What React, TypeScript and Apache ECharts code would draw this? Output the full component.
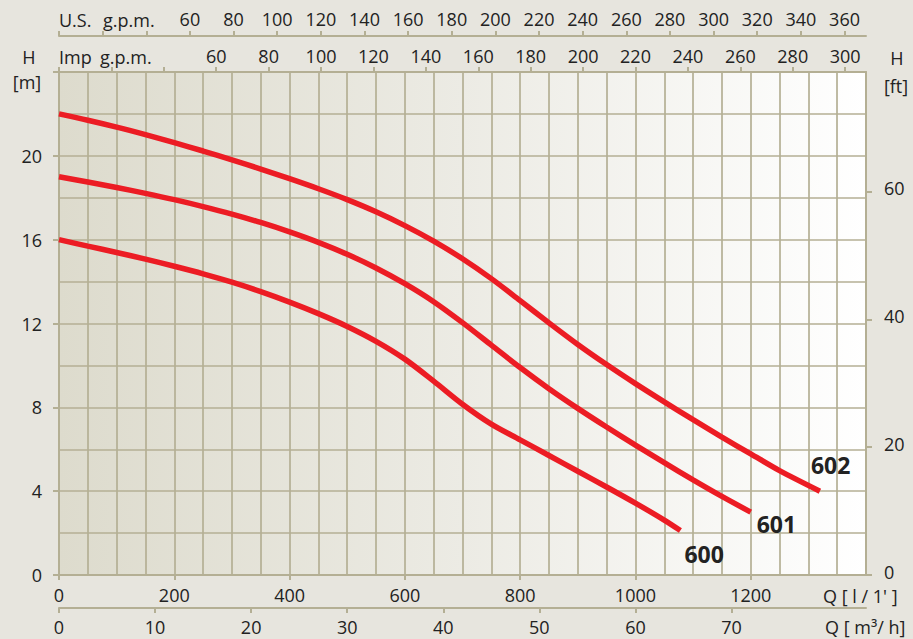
import React, { useEffect, useRef } from 'react';
import * as echarts from 'echarts';

// ---- Data (flow in l/min, head in m) ----
const flow600 = [0, 50, 100, 150, 200, 250, 300, 350, 400, 450, 500, 550, 600, 650, 700, 750, 800, 850, 900, 950, 1000, 1050, 1078];
const head600 = [16, 15.69, 15.39, 15.07, 14.73, 14.37, 13.97, 13.52, 13.02, 12.47, 11.86, 11.15, 10.3, 9.25, 8.15, 7.2, 6.45, 5.7, 4.95, 4.2, 3.43, 2.62, 2.12];

const flow601 = [0, 50, 100, 150, 200, 250, 300, 350, 400, 450, 500, 550, 600, 650, 700, 750, 800, 850, 900, 950, 1000, 1050, 1100, 1150, 1200];
const head601 = [19, 18.75, 18.49, 18.21, 17.91, 17.58, 17.22, 16.82, 16.37, 15.87, 15.3, 14.65, 13.9, 13.04, 12.04, 10.97, 9.9, 8.89, 7.95, 7.06, 6.2, 5.36, 4.54, 3.75, 3.0];

const flow602 = [0, 50, 100, 150, 200, 250, 300, 350, 400, 450, 500, 550, 600, 650, 700, 750, 800, 850, 900, 950, 1000, 1050, 1100, 1150, 1200, 1250, 1320];
const head602 = [22, 21.7, 21.37, 21.01, 20.63, 20.23, 19.81, 19.37, 18.91, 18.43, 17.91, 17.33, 16.67, 15.93, 15.09, 14.14, 13.09, 12.03, 11.0, 10.04, 9.13, 8.26, 7.41, 6.58, 5.78, 4.98, 4.0];

const seriesNames = ['600', '601', '602'];

// ---- Tick labels ----
const lpmTicks = [0, 200, 400, 600, 800, 1000, 1200];
const m3hTicks = [0, 10, 20, 30, 40, 50, 60, 70];
const usGpmTicks = [0, 20, 40, 60, 80, 100, 120, 140, 160, 180, 200, 220, 240, 260, 280, 300, 320, 340, 360];
const usGpmLabels = [60, 80, 100, 120, 140, 160, 180, 200, 220, 240, 260, 280, 300, 320, 340, 360];
const impGpmTicks = [0, 20, 40, 60, 80, 100, 120, 140, 160, 180, 200, 220, 240, 260, 280, 300];
const impGpmLabels = [60, 80, 100, 120, 140, 160, 180, 200, 220, 240, 260, 280, 300];
const headMTicks = [0, 4, 8, 12, 16, 20, 24];
const headMLabels = [0, 4, 8, 12, 16, 20];
const headFtTicks = [0, 20, 40, 60];

const Q_MAX = 1400;
const H_MAX = 24;
const LPM_PER_USGPM = 3.78541;
const LPM_PER_IMPGPM = 4.54609;
const LPM_PER_M3H = 1000 / 60;
const M_PER_FT = 0.3048;

const FONT = '"Open Sans", "Noto Sans", sans-serif';
const TEXT = '#222222';
const GRID = '#b4af94';
const RED = '#ec1c24';

function zip(xs: number[], ys: number[]) {
  return xs.map((x, i) => [x, ys[i]]);
}

const plain = (v: number) => String(Math.round(v));

function makeXAxis(opts: any) {
  return {
    type: 'value',
    min: 0,
    max: opts.max,
    position: opts.position,
    offset: opts.offset || 0,
    axisLine: { show: true, onZero: false, lineStyle: { color: GRID, width: 2 } },
    axisTick: { show: true, customValues: opts.ticks, length: 5, lineStyle: { color: GRID, width: 2 } },
    axisLabel: {
      show: true,
      customValues: opts.labels,
      formatter: plain,
      fontSize: 18,
      lineHeight: 18,
      fontFamily: FONT,
      color: TEXT,
      margin: opts.margin,
    },
    splitLine: { show: false },
  };
}

export default function App() {
  const ref = useRef<HTMLDivElement>(null);

  useEffect(() => {
    if (!ref.current) return;
    const chart = echarts.init(ref.current, null, { renderer: 'svg' });
    const dataSets = [zip(flow600, head600), zip(flow601, head601), zip(flow602, head602)];
    const labelOffsets = [[-4, 23], [-2, 12], [-17, -26]];

    const textEl = (text: string, x: number, y: number, align: string) => ({
      type: 'text',
      x,
      y,
      silent: true,
      style: {
        text,
        fill: TEXT,
        font: `18px ${FONT}`,
        lineHeight: 16,
        textAlign: align,
        textVerticalAlign: 'middle',
      },
    });

    chart.setOption({
      animation: false,
      backgroundColor: '#e7e5de',
      grid: {
        left: 59,
        right: 47,
        top: 72,
        bottom: 64,
        show: true,
        borderWidth: 0,
        backgroundColor: new echarts.graphic.LinearGradient(0, 0, 1, 0, [
          { offset: 0, color: '#dddbcd' },
          { offset: 0.5, color: '#ecebe4' },
          { offset: 1, color: '#ffffff' },
        ]),
      },
      xAxis: [
        makeXAxis({ max: Q_MAX, position: 'bottom', ticks: lpmTicks, labels: lpmTicks, margin: 11 }),
        makeXAxis({ max: Q_MAX / LPM_PER_M3H, position: 'bottom', offset: 33, ticks: m3hTicks, labels: m3hTicks, margin: 10 }),
        makeXAxis({ max: Q_MAX / LPM_PER_IMPGPM, position: 'top', ticks: impGpmTicks, labels: impGpmLabels, margin: 7 }),
        makeXAxis({ max: Q_MAX / LPM_PER_USGPM, position: 'top', offset: 36, ticks: usGpmTicks, labels: usGpmLabels, margin: 8 }),
        {
          type: 'value',
          min: 0,
          max: Q_MAX,
          interval: 50,
          position: 'bottom',
          axisLine: { show: false, onZero: false },
          axisTick: { show: false },
          axisLabel: { show: false },
          splitLine: { show: true, lineStyle: { color: GRID, width: 1.7 } },
        },
      ],
      yAxis: [
        {
          type: 'value',
          min: 0,
          max: H_MAX,
          position: 'left',
          axisLine: { show: true, onZero: false, lineStyle: { color: GRID, width: 2 } },
          axisTick: { show: true, customValues: headMTicks, length: 6, lineStyle: { color: GRID, width: 2 } },
          axisLabel: {
            customValues: headMLabels,
            formatter: plain,
            fontSize: 18,
            lineHeight: 18,
            fontFamily: FONT,
            color: TEXT,
            margin: 17,
            padding: [0, 0, 7, 0],
          },
          splitLine: { show: false },
        },
        {
          type: 'value',
          min: 0,
          max: H_MAX / M_PER_FT,
          position: 'right',
          axisLine: { show: true, onZero: false, lineStyle: { color: GRID, width: 2 } },
          axisTick: { show: true, customValues: headFtTicks, length: 6, lineStyle: { color: GRID, width: 2 } },
          axisLabel: {
            customValues: headFtTicks,
            formatter: plain,
            fontSize: 18,
            lineHeight: 7,
            verticalAlign: 'bottom',
            fontFamily: FONT,
            color: TEXT,
            margin: 18,
          },
          splitLine: { show: false },
        },
        {
          type: 'value',
          min: 0,
          max: H_MAX,
          interval: 2,
          position: 'left',
          axisLine: { show: false, onZero: false },
          axisTick: { show: false },
          axisLabel: { show: false },
          splitLine: { show: true, lineStyle: { color: GRID, width: 1.7 } },
        },
      ],
      series: seriesNames.map((name, i) => ({
        name,
        type: 'line',
        xAxisIndex: 0,
        yAxisIndex: 0,
        data: dataSets[i],
        smooth: 0.3,
        showSymbol: false,
        symbol: 'none',
        lineStyle: { color: RED, width: 5.5, cap: 'butt' },
        endLabel: {
          show: true,
          formatter: '{a}',
          fontSize: 23,
          fontWeight: 'bold',
          fontFamily: FONT,
          color: TEXT,
          offset: labelOffsets[i],
        },
        z: 5,
      })),
      graphic: [
        textEl('U.S.', 59, 20, 'left'),
        textEl('g.p.m.', 103, 20, 'left'),
        textEl('Imp', 59, 57, 'left'),
        textEl('g.p.m.', 100, 57, 'left'),
        textEl('H', 29, 57, 'center'),
        textEl('[m]', 27, 82, 'center'),
        textEl('H', 897, 58, 'center'),
        textEl('[ft]', 896, 86, 'center'),
        textEl("Q [ l / 1' ]", 823, 596, 'left'),
        textEl('Q [ m³/ h]', 825, 627, 'left'),
      ],
    });

    return () => {
      chart.dispose();
    };
  }, []);

  return (
    <div
      ref={ref}
      style={{ position: 'absolute', left: 0, top: 0, width: 913, height: 639 }}
    />
  );
}
